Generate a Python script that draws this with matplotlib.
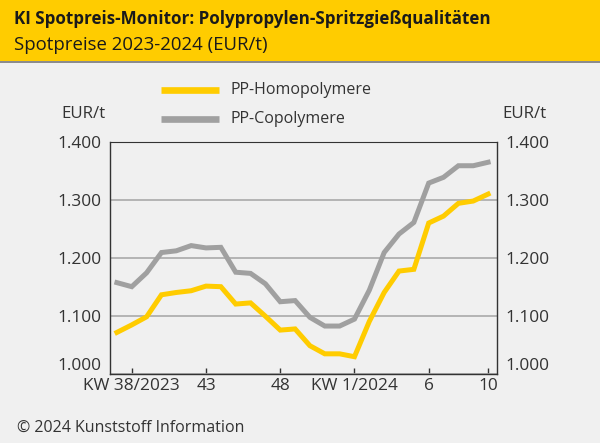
"""
    KI Spotpreis-Monitor: PP-Spritzgiessqualitaeten, Spotpreise 2023-2024.
"""
import matplotlib
matplotlib.use("Agg")
import matplotlib.pyplot as plt
from matplotlib.patches import Rectangle
from matplotlib.lines import Line2D

plt.rcParams['font.family'] = ['Open Sans', 'DejaVu Sans']

# Kalenderwochen KW 37/2023 .. KW 10/2024
WEEKS = list(range(37, 53)) + list(range(1, 11))

HOMO = [1071, 1084, 1098, 1136, 1140, 1143, 1151, 1150, 1120, 1122,
        1099, 1075, 1077, 1048, 1034, 1034, 1029, 1090, 1140, 1177,
        1180, 1260, 1272, 1294, 1298, 1310]
COPO = [1157, 1150, 1174, 1209, 1212, 1221, 1217, 1218, 1175, 1173,
        1155, 1124, 1126, 1097, 1082, 1082, 1094, 1144, 1209, 1241,
        1261, 1329, 1339, 1359, 1359, 1365]

TICK_WEEKS = [38, 43, 48, 1, 6, 10]
TICK_LABELS = ['KW 38/2023', '43', '48', 'KW 1/2024', '6', '10']
Y_TICKS = [1000, 1100, 1200, 1300, 1400]
Y_LABELS = ['1.000', '1.100', '1.200', '1.300', '1.400']

TITLE = 'KI Spotpreis-Monitor: Polypropylen-Spritzgießqualitäten'
SUBTITLE = 'Spotpreise 2023-2024 (EUR/t)'
SOURCE = '© 2024 Kunststoff Information'

COLOR_HOMO = '#FFCC00'
COLOR_COPO = '#A0A0A0'
BG = '#F0F0F0'
TEXT = '#333333'

W, H = 600, 443


def fx(px):
    return px / W


def fy(py):
    return 1 - py / H


def main():
    fig = plt.figure(figsize=(W / 100, H / 100), dpi=100, facecolor=BG)

    # header band
    fig.patches.append(Rectangle((0, fy(61)), 1, 61 / H, transform=fig.transFigure,
                                 facecolor=COLOR_HOMO, edgecolor='none'))
    fig.patches.append(Rectangle((0, fy(63)), 1, 2 / H, transform=fig.transFigure,
                                 facecolor='#8C8C8C', edgecolor='none'))
    fig.text(fx(14), fy(19), TITLE, fontsize=12.25, fontweight='bold',
             color='#1A1A1A', va='center')
    fig.text(fx(14), fy(45), SUBTITLE, fontsize=13.4, color='#1A1A1A', va='center')

    ax = fig.add_axes([fx(109.5), fy(373.5), fx(497 - 109.5), (373.5 - 142) / H])
    ax.set_facecolor(BG)

    xs = list(range(len(WEEKS)))
    ax.plot(xs, COPO, color=COLOR_COPO, lw=3.6, solid_joinstyle='miter', zorder=3)
    ax.plot(xs, HOMO, color=COLOR_HOMO, lw=3.6, solid_joinstyle='miter', zorder=4)

    ax.set_xlim(-0.5, 25.6)
    ax.set_ylim(1000, 1400)

    ax.set_xticks([WEEKS.index(w) for w in TICK_WEEKS])
    ax.set_xticklabels(TICK_LABELS)
    ax.tick_params(axis='x', direction='in', length=4, width=1, color='#333333',
                   labelsize=12.4, labelcolor=TEXT, pad=3)

    ax.set_yticks(Y_TICKS)
    ax.set_yticklabels(Y_LABELS)
    ax.tick_params(axis='y', length=0, labelsize=12.4, labelcolor=TEXT, pad=6,
                   labelleft=True, labelright=True)
    for lab in ax.get_yticklabels():
        if lab.get_text() == '1.000':
            lab.set_va('bottom')

    ax.grid(axis='y', color='#AAAAAA', lw=1.2, zorder=1)
    ax.set_axisbelow(True)
    for side in ('left', 'right', 'bottom', 'top'):
        ax.spines[side].set_color('#333333')
        ax.spines[side].set_linewidth(1)
    ax.spines['top'].set_linewidth(0.8)

    # legend, drawn by hand like the original
    fig.add_artist(Line2D([fx(161), fx(219)], [fy(90), fy(90)], color=COLOR_HOMO,
                          lw=4.8, solid_capstyle='butt'))
    fig.add_artist(Line2D([fx(161), fx(219)], [fy(119), fy(119)], color=COLOR_COPO,
                          lw=4.8, solid_capstyle='butt'))
    fig.text(fx(231), fy(90), 'PP-Homopolymere', fontsize=11.5, color=TEXT, va='center')
    fig.text(fx(231), fy(119), 'PP-Copolymere', fontsize=11.5, color=TEXT, va='center')

    fig.text(fx(106), fy(114), 'EUR/t', fontsize=12.2, color=TEXT, va='center', ha='right')
    fig.text(fx(502), fy(114), 'EUR/t', fontsize=12.2, color=TEXT, va='center')

    fig.text(fx(17), fy(428), SOURCE, fontsize=11.5, color=TEXT, va='center')

    fig.savefig('out.png', dpi=100, facecolor=BG)


if __name__ == "__main__":
    main()
